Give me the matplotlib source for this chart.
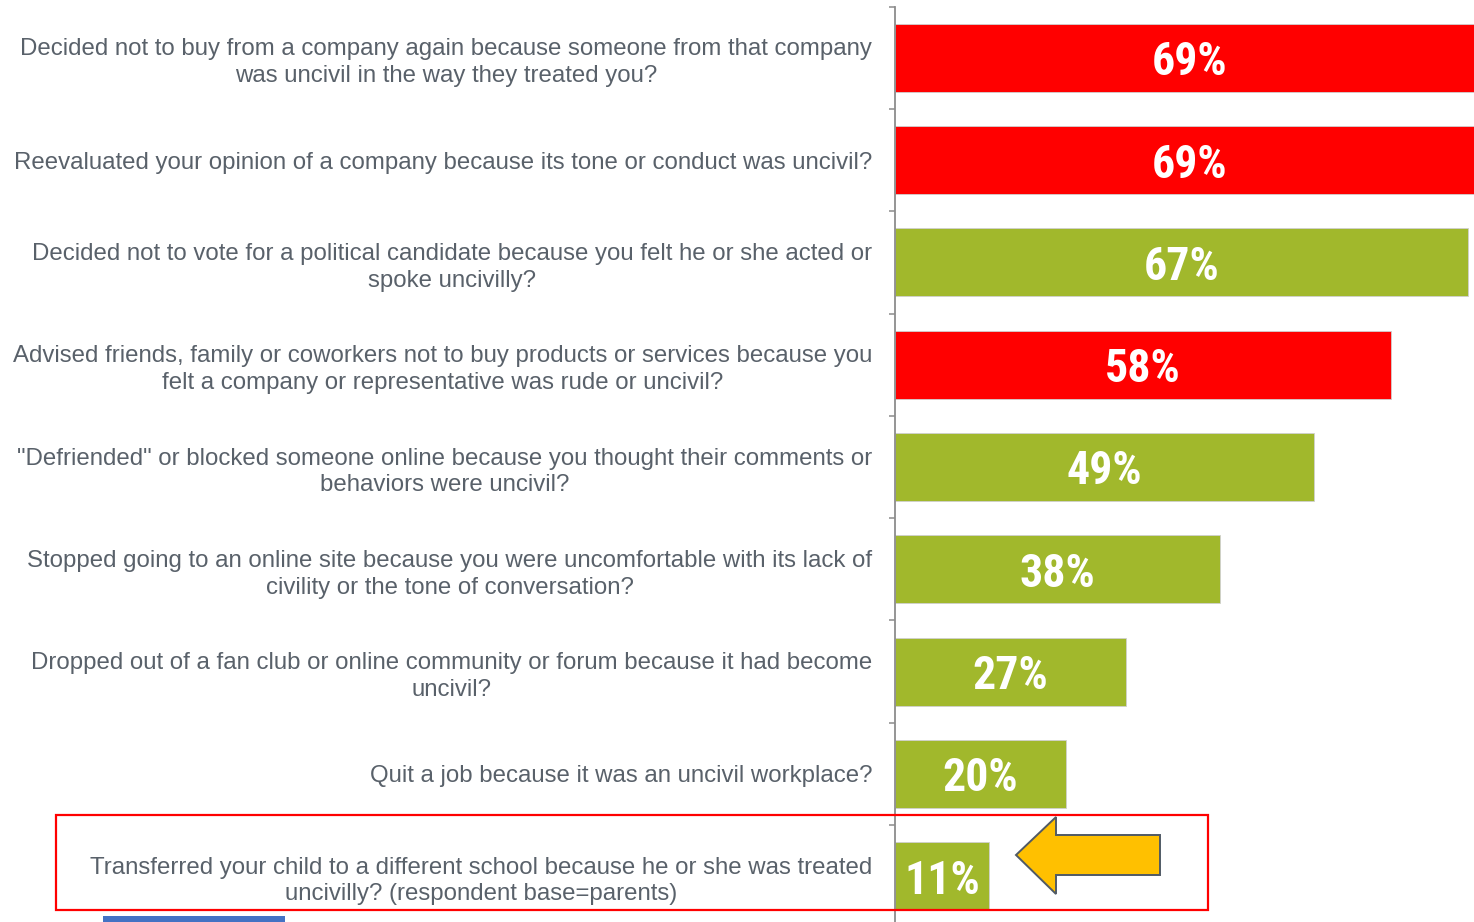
import matplotlib.pyplot as plt
from matplotlib.patches import Rectangle, Polygon

# Datos del grafico
preguntas = [
    "Decided not to buy from a company again because someone from that company\nwas uncivil in the way they treated you?",
    "Reevaluated your opinion of a company because its tone or conduct was uncivil?",
    "Decided not to vote for a political candidate because you felt he or she acted or\nspoke uncivilly?",
    "Advised friends, family or coworkers not to buy products or services because you\nfelt a company or representative was rude or uncivil?",
    "\"Defriended\" or blocked someone online because you thought their comments or\nbehaviors were uncivil?",
    "Stopped going to an online site because you were uncomfortable with its lack of\ncivility or the tone of conversation?",
    "Dropped out of a fan club or online community or forum because it had become\nuncivil?",
    "Quit a job because it was an uncivil workplace?",
    "Transferred your child to a different school because he or she was treated\nuncivilly? (respondent base=parents)",
]
porcentajes = [69, 69, 67, 58, 49, 38, 27, 20, 11]
es_empresa = [True, True, False, True, False, False, False, False, False]

ROJO = '#FF0000'
VERDE = '#A1B82C'
GRIS_TXT = '#59616A'
GRIS_EJE = '#8C8C8C'

W, H = 1474, 922
fig = plt.figure(figsize=(W / 100, H / 100), dpi=100)

# eje: spine en x=895 px, franjas de 102.3 px desde y=6.7 px
ax = fig.add_axes([895 / W, 1 - 927.3 / H, 1 - 895 / W, (927.3 - 6.7) / H])

y = list(range(len(preguntas)))
colores = [ROJO if e else VERDE for e in es_empresa]
ax.barh(y, porcentajes, height=0.665, color=colores, edgecolor='#D0D0D0', linewidth=0.6)

for yi, v in zip(y, porcentajes):
    ax.text(v / 2, yi + 0.17, f'{v}%', ha='center', va='baseline', color='white',
            fontsize=33, fontweight='bold', clip_on=False,
            family=['Roboto Condensed', 'Roboto'])

ax.set_xlim(0, 579 / 8.55)
ax.set_ylim(len(preguntas) - 0.5, -0.5)

ax.set_yticks(y)
ax.set_yticklabels(preguntas, fontsize=17.25, color=GRIS_TXT,
                   family='Liberation Sans', linespacing=1.28)
for lbl in ax.get_yticklabels():
    lbl.set_multialignment('center')
ax.tick_params(axis='y', which='major', length=0, pad=16.5)
ax.set_yticks([i - 0.5 for i in range(len(preguntas) + 1)], minor=True)
ax.tick_params(axis='y', which='minor', length=4.3, width=1.1, color=GRIS_EJE)
ax.set_xticks([])

for s in ['top', 'right', 'bottom']:
    ax.spines[s].set_visible(False)
ax.spines['left'].set_color(GRIS_EJE)
ax.spines['left'].set_linewidth(1.3)

# Recuadro rojo, flecha amarilla y barra azul (anotaciones)
def px(x, yy):
    return (x / W, 1 - yy / H)

fig.patches.append(Rectangle(px(56, 910), (1208 - 56) / W, (910 - 815) / H,
                             transform=fig.transFigure, fill=False,
                             edgecolor=ROJO, linewidth=1.6, zorder=5))
flecha = [px(1016, 855), px(1056, 817), px(1056, 835), px(1160, 835),
          px(1160, 875), px(1056, 875), px(1056, 894)]
fig.patches.append(Polygon(flecha, closed=True, transform=fig.transFigure,
                           facecolor='#FFC000', edgecolor='#505A65',
                           linewidth=1.4, zorder=6))
fig.patches.append(Rectangle(px(103, 922), (285 - 103) / W, 6 / H,
                             transform=fig.transFigure, facecolor='#4472C4',
                             edgecolor='none', zorder=5))

plt.savefig('out.png', dpi=100)
